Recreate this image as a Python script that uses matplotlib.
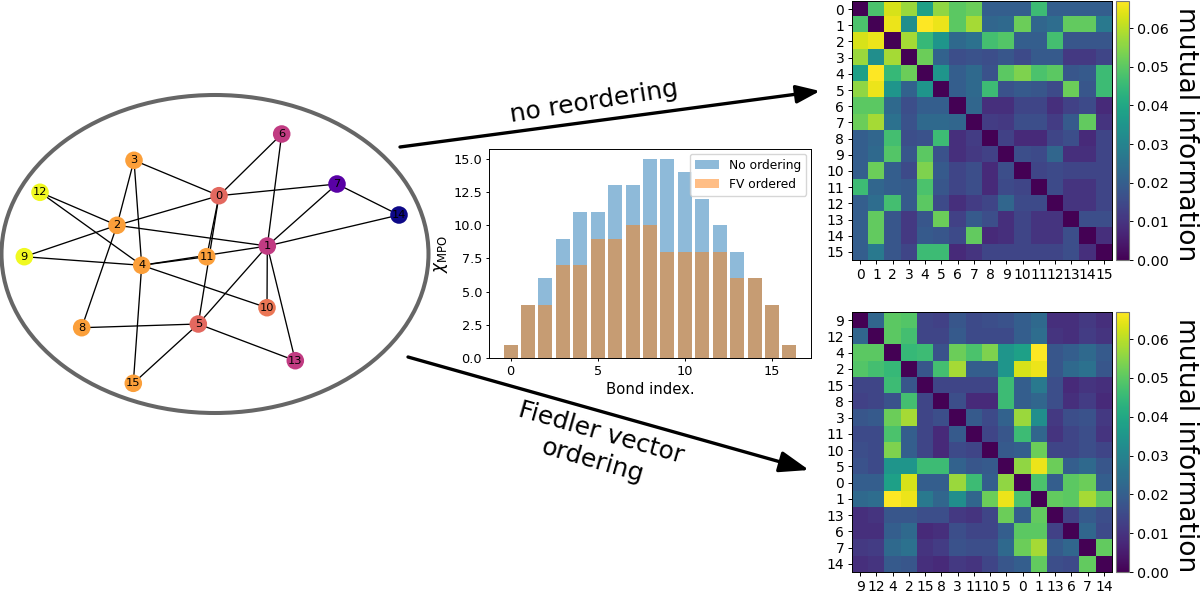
import numpy as np
import matplotlib
matplotlib.use("Agg")
import matplotlib.pyplot as plt
from matplotlib.patches import Ellipse, FancyArrowPatch

W, H = 1200, 593

# graph: node positions as laid out in the picture (px), colour value, edges
node_x = [219, 267.3, 117, 134, 141.7, 198.3, 281.7, 337, 81.7, 24.3, 267, 206.7, 40, 295.3, 399, 133.3]
node_y = [195.7, 246, 225.3, 160.3, 265.3, 324, 134, 184, 327.7, 256.7, 307.7, 256.7, 192.3, 360.7, 215, 383.3]
node_val = [0.61, 0.46, 0.78, 0.78, 0.78, 0.61, 0.46, 0.16, 0.78, 1.0, 0.66, 0.78, 1.0, 0.46, 0.0, 0.78]
edges = [(0, 3), (0, 6), (0, 7), (0, 2), (0, 11), (0, 5), (1, 6), (1, 7), (1, 14), (1, 2), (1, 5),
         (1, 10), (1, 13), (1, 4), (2, 3), (2, 12), (2, 9), (2, 8), (3, 4), (4, 12), (4, 9), (4, 11), (4, 10),
         (4, 15), (5, 8), (5, 13), (5, 15), (7, 14)]

# bond dimensions
bonds = list(range(17))
chi_none = [1, 4, 6, 9, 11, 11, 13, 13, 15, 15, 14, 12, 10, 8, 6, 4, 1]
chi_fv = [1, 4, 4, 7, 7, 9, 9, 10, 10, 8, 8, 8, 8, 6, 6, 4, 1]
bond_ticks = [0, 5, 10, 15]
chi_ticks = [0, 2.5, 5, 7.5, 10, 12.5, 15]

# mutual information, original ordering
mi = np.array([
    [0, .048, .063, .057, .038, .056, .050, .052, .020, .020, .020, .046, .020, .020, .020, .020],
    [.048, 0, .065, .033, .067, .065, .050, .058, .022, .023, .052, .022, .024, .051, .051, .027],
    [.063, .065, 0, .058, .045, .035, .023, .025, .047, .049, .020, .020, .047, .018, .018, .018],
    [.057, .033, .058, 0, .052, .021, .016, .017, .016, .018, .015, .019, .019, .011, .011, .014],
    [.038, .067, .045, .052, 0, .035, .020, .023, .017, .050, .054, .048, .050, .018, .019, .046],
    [.056, .065, .035, .021, .035, 0, .020, .023, .046, .017, .019, .018, .015, .052, .018, .046],
    [.050, .050, .023, .016, .020, .020, 0, .022, .009, .009, .014, .014, .009, .013, .015, .008],
    [.052, .058, .025, .017, .023, .023, .022, 0, .012, .011, .016, .016, .012, .019, .051, .010],
    [.020, .022, .047, .016, .017, .046, .009, .012, 0, .013, .008, .008, .014, .016, .008, .014],
    [.020, .023, .049, .018, .050, .017, .009, .011, .013, 0, .016, .015, .022, .009, .009, .014],
    [.020, .052, .020, .015, .054, .019, .014, .016, .008, .016, 0, .014, .015, .014, .014, .014],
    [.046, .022, .020, .019, .048, .018, .014, .016, .008, .015, .014, 0, .015, .010, .010, .014],
    [.020, .024, .047, .019, .050, .015, .009, .012, .014, .022, .015, .015, 0, .010, .010, .014],
    [.020, .051, .018, .011, .018, .052, .013, .019, .016, .009, .014, .010, .010, 0, .016, .016],
    [.020, .051, .018, .011, .019, .018, .015, .051, .008, .009, .014, .010, .010, .016, 0, .009],
    [.020, .027, .018, .014, .046, .046, .008, .010, .014, .014, .014, .014, .014, .016, .009, 0],
])
order_none = list(range(16))
order_fv = [9, 12, 4, 2, 15, 8, 3, 11, 10, 5, 0, 1, 13, 6, 7, 14]
cbar_ticks = [0, .01, .02, .03, .04, .05, .06]


def px_axes(fig, x0, y0, x1, y1):
    # axes from picture pixels, y measured from the top
    return fig.add_axes([x0 / W, 1 - y1 / H, (x1 - x0) / W, (y1 - y0) / H])


def draw_mi(fig, order, y0, y1):
    ax = px_axes(fig, 852, y0, 1112, y1)
    im = ax.imshow(mi[np.ix_(order, order)], cmap="viridis", vmin=0, vmax=mi.max(), aspect="auto")
    ax.set_xticks(range(16), order)
    ax.set_yticks(range(16), order)
    ax.tick_params(labelsize=10, length=3, pad=2.5, width=0.7)
    cax = px_axes(fig, 1116, y0, 1129, y1)
    cb = fig.colorbar(im, cax=cax)
    cb.set_ticks(cbar_ticks)
    cb.ax.tick_params(labelsize=10.3, length=3, pad=2.5, width=0.7)
    cb.outline.set_edgecolor("#777777")
    fig.text(1186 / W, 1 - ((y0 + y1) / 2 + 3.5) / H, "mutual information", rotation=270,
             ha="center", va="center", fontsize=19)
    for s in ax.spines.values():
        s.set_linewidth(0.7)


fig = plt.figure(figsize=(W / 100, H / 100), dpi=100)

# full figure overlay in pixel coordinates
bg = fig.add_axes([0, 0, 1, 1])
bg.set_xlim(0, W)
bg.set_ylim(H, 0)
bg.axis("off")

bg.add_patch(Ellipse((215, 254), 427, 318, fill=False, ec="#666666", lw=2.9))
for a, b in edges:
    bg.plot([node_x[a], node_x[b]], [node_y[a], node_y[b]], color="k", lw=0.95, zorder=2)
bg.scatter(node_x, node_y, c=node_val, cmap="plasma", vmin=0, vmax=1, s=160, zorder=3, linewidths=0)
for i in range(16):
    bg.text(node_x[i], node_y[i], str(i), ha="center", va="center", fontsize=8.2, zorder=4)

bg.add_patch(FancyArrowPatch((400, 147), (820, 91), arrowstyle="-|>,head_length=0.6,head_width=0.23",
                             mutation_scale=24, lw=2.4, color="k", shrinkA=0, shrinkB=0))
bg.add_patch(FancyArrowPatch((408, 357), (809, 470), arrowstyle="-|>,head_length=0.75,head_width=0.27",
                             mutation_scale=24, lw=2.4, color="k", shrinkA=0, shrinkB=0))
bg.text(594, 102, "no reordering", rotation=9, ha="center", va="center", fontsize=18)
bg.text(597, 447, "Fiedler vector\nordering", rotation=-16, ha="center", va="center", fontsize=18,
        linespacing=1.3, rotation_mode="anchor")

# bar chart in the middle
ax = px_axes(fig, 489, 149, 811, 358)
ax.bar(bonds, chi_none, alpha=0.5, label="No ordering")
ax.bar(bonds, chi_fv, alpha=0.5, label="FV ordered")
ax.set_xticks(bond_ticks)
ax.set_yticks(chi_ticks)
ax.set_xlabel("Bond index.", fontsize=10.7, labelpad=3)
ax.set_ylabel(r"$\chi_{\mathrm{MPO}}$", fontsize=12, labelpad=2)
ax.tick_params(labelsize=9.3, length=2.5, pad=2.5, width=0.7)
ax.legend(fontsize=8.8, loc="upper right", borderaxespad=0.4)
for s in ax.spines.values():
    s.set_linewidth(0.7)

draw_mi(fig, order_none, 1, 260)
draw_mi(fig, order_fv, 312, 572)

fig.savefig("out.png", dpi=100)
